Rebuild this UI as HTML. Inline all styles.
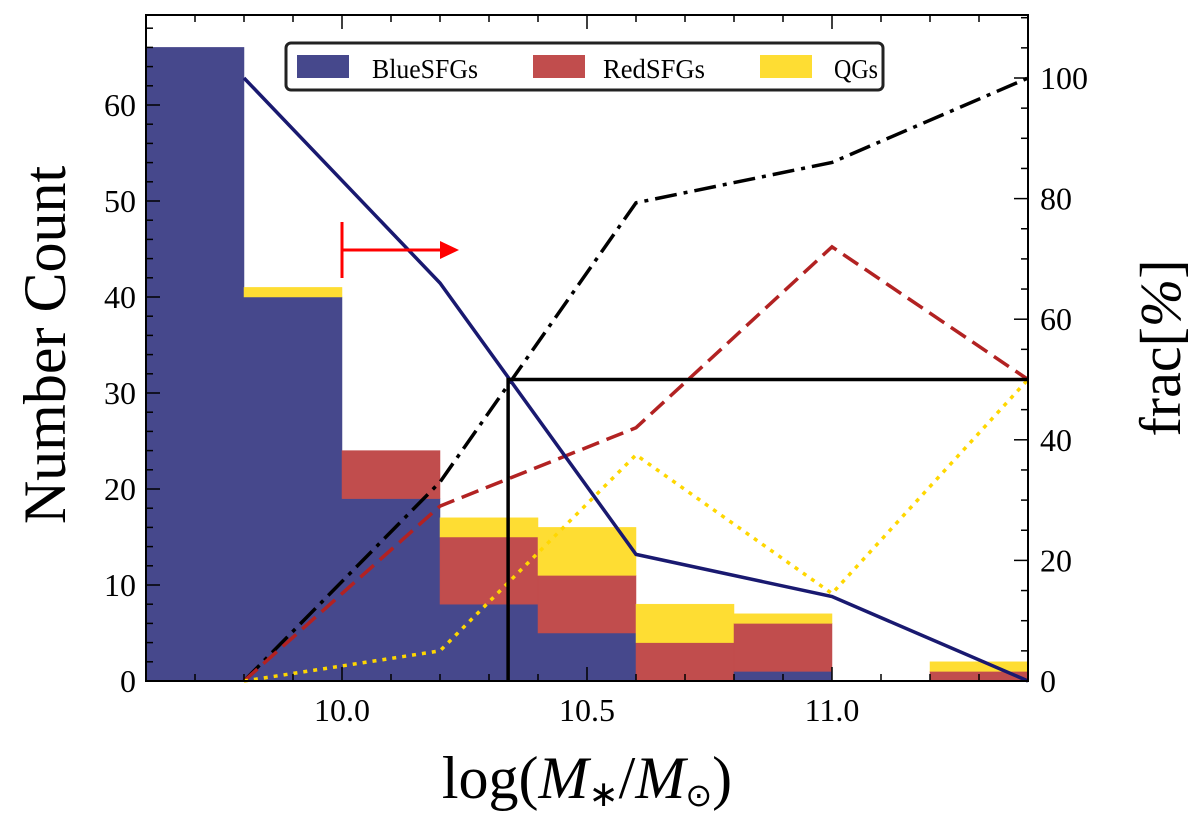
<!DOCTYPE html>
<html><head><meta charset="utf-8"><style>
body{margin:0;background:#fff;}
svg text{font-family:"Liberation Serif",serif;fill:#000;}
</style></head><body>
<svg id="chart" width="1200" height="830">
<g id="bars"></g>
<g id="lines"></g>
<g id="axes"></g>
</svg>
<script>
const binEdges=[9.6,9.8,10.0,10.2,10.4,10.6,10.8,11.0,11.2,11.4];
const blueCounts=[66,40,19,8,5,0,1,0,0];
const redCounts=[0,0,5,7,6,4,5,0,1];
const qgCounts=[0,1,0,2,5,4,1,0,1];
const fracX=[9.8,10.2,10.6,11.0,11.4];
const blueFrac=[100,66,21,14,0];
const redFrac=[0,29,42,72,50];
const qgFrac=[0,5,37.5,14.5,50];
const totFrac=[0,33,79.3,86,100];
const xTicks=[10.0,10.5,11.0];
const yTicks=[0,10,20,30,40,50,60];
const fTicks=[0,20,40,60,80,100];
const massCut=10.339;
const L=146,R=1028,T=15,B=681;
const sx=v=>L+(v-9.6)/1.8*(R-L);
const sy=v=>B-v*9.6;
const sf=v=>B-v*6.03;
const NS="http://www.w3.org/2000/svg";
function mk(t,a,p){const e=document.createElementNS(NS,t);for(const k in a)e.setAttribute(k,a[k]);p.appendChild(e);return e;}
const bars=document.getElementById('bars'),lines=document.getElementById('lines'),axes=document.getElementById('axes');
for(let i=0;i<blueCounts.length;i++){
  const x0=sx(binEdges[i]),x1=sx(binEdges[i+1]);
  const parts=[[blueCounts[i],'#46488c'],[redCounts[i],'#c14d4d'],[qgCounts[i],'#fedd33']];
  let base=0;
  parts.forEach((p,j)=>{if(p[0]>0){
    const r=mk('rect',{x:x0,y:sy(base+p[0]),width:x1-x0,height:sy(base)-sy(base+p[0]),fill:p[1],stroke:p[1],'stroke-width':0.5},bars);
    
    
    base+=p[0];}});
}
function line(vals,col,dash,name){
  const pts=fracX.map((x,i)=>sx(x)+','+sf(vals[i])).join(' ');
  const p=mk('polyline',{points:pts,fill:'none',stroke:col,'stroke-width':3.5,'stroke-dasharray':dash},lines);
  
  
}
line(totFrac,'#000','22,7,4,7','total-sf-fraction-line');
line(redFrac,'#b22222','18,8','redsfg-fraction-line');
line(qgFrac,'#ffd700','4,6','qg-fraction-line');
line(blueFrac,'#191970','','bluesfg-fraction-line');
const cx=sx(massCut);
let e=mk('polyline',{points:`${cx},${B} ${cx},${sf(50)} ${R},${sf(50)}`,fill:'none',stroke:'#000','stroke-width':3.5},lines);


e=mk('g',{},lines);


mk('line',{x1:342,y1:222,x2:342,y2:278,stroke:'#f00','stroke-width':3},e);
mk('line',{x1:342,y1:250,x2:442,y2:250,stroke:'#f00','stroke-width':3},e);
mk('polygon',{points:'459,250 440,241 440,259',fill:'#f00'},e);
mk('rect',{x:L,y:T,width:R-L,height:B-T,fill:'none',stroke:'#000','stroke-width':2},axes);
for(let k=1;k<18;k++){const v=9.6+k*0.1;const x=sx(v);const maj=Math.abs(v*2-Math.round(v*2))<1e-6;const h=maj?14:7;
 mk('line',{x1:x,y1:B,x2:x,y2:B-h,stroke:'#000','stroke-width':1.5},axes);mk('line',{x1:x,y1:T,x2:x,y2:T+h,stroke:'#000','stroke-width':1.5},axes);}
xTicks.forEach(v=>{const x=sx(v);
 const t=mk('text',{x:x,y:B+40,'font-size':32,'text-anchor':'middle'},axes);t.textContent=v.toFixed(1);
 });
for(let v=0;v<=68;v+=2){const y=sy(v);mk('line',{x1:L,y1:y,x2:L+(v%10==0?14:7),y2:y,stroke:'#000','stroke-width':1.5},axes);}
yTicks.forEach(v=>{const t=mk('text',{x:L-10,y:sy(v)+11,'font-size':32,'text-anchor':'end'},axes);t.textContent=v;
 });
for(let v=0;v<=110;v+=5){const y=sf(v);if(y<T)break;mk('line',{x1:R,y1:y,x2:R-(v%20==0?14:7),y2:y,stroke:'#000','stroke-width':1.5},axes);}
fTicks.forEach(v=>{const t=mk('text',{x:R+12,y:sf(v)+11,'font-size':32},axes);t.textContent=v;
 });
</script>
<svg style="position:absolute;left:0;top:0" width="1200" height="830">
<text x="65" y="345" font-size="60" text-anchor="middle" transform="rotate(-90 65 345)">Number Count</text>
<text x="1180" y="348" font-size="58" text-anchor="middle" transform="rotate(-90 1180 348)">frac[<tspan font-style="italic">%</tspan>]</text>
<text x="587" y="798" font-size="60" text-anchor="middle">log(<tspan font-style="italic">M</tspan><tspan font-size="36" dy="8">∗</tspan><tspan dy="-8">/</tspan><tspan font-style="italic">M</tspan><tspan font-size="32" dy="8">⊙</tspan><tspan dy="-8">)</tspan></text>
<g>
<rect x="286" y="43" width="597" height="47" rx="5" fill="#fff" stroke="#222" stroke-width="3"/>
<rect x="297" y="55" width="52" height="23" fill="#46488c"/>
<text x="372" y="78" font-size="27" textLength="106" lengthAdjust="spacingAndGlyphs">BlueSFGs</text>
<rect x="533" y="55" width="52" height="23" fill="#c14d4d"/>
<text x="603" y="78" font-size="27" textLength="102" lengthAdjust="spacingAndGlyphs">RedSFGs</text>
<rect x="760" y="55" width="52" height="23" fill="#fedd33"/>
<text x="834" y="78" font-size="27" textLength="44" lengthAdjust="spacingAndGlyphs">QGs</text>
</g>
</svg>
</body></html>
